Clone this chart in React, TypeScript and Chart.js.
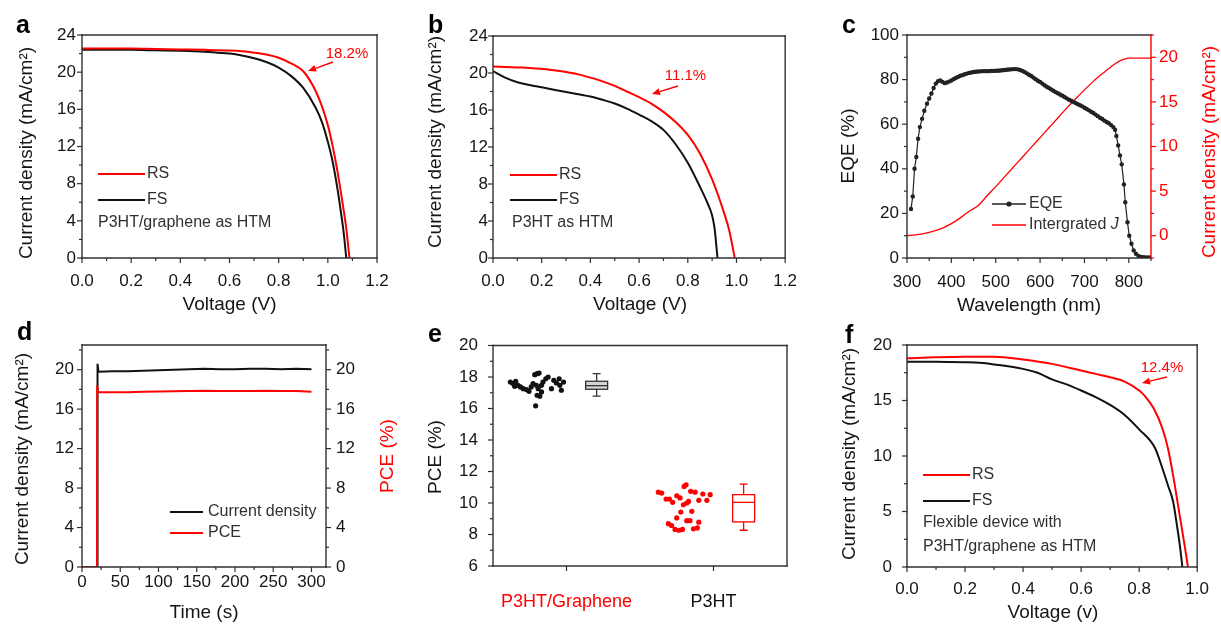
import React, { useEffect, useRef } from 'react';
import { Chart, registerables } from 'chart.js';

Chart.register(...registerables);

const FONT = '"Liberation Sans", Arial, Helvetica, sans-serif';
const RED = '#ff0000';
const INK = '#151515';
const AXIS = '#303030';
const SOFT = '#303030';

// ---------- Panel a : P3HT/graphene as HTM ----------
const aVoltageRS = [0, 0.1, 0.2, 0.3, 0.4, 0.5, 0.6, 0.65, 0.7, 0.75, 0.8, 0.85, 0.9, 0.925, 0.95, 0.975, 1.0, 1.02, 1.04, 1.06, 1.075, 1.088];
const aCurrentRS = [22.55, 22.55, 22.55, 22.5, 22.45, 22.4, 22.32, 22.24, 22.1, 21.9, 21.55, 20.95, 20.1, 19.2, 18.0, 16.4, 14.3, 12.0, 9.2, 5.9, 3.2, 0];
const aVoltageFS = [0, 0.1, 0.2, 0.3, 0.4, 0.5, 0.55, 0.6, 0.65, 0.7, 0.75, 0.8, 0.85, 0.9, 0.95, 0.975, 1.0, 1.02, 1.04, 1.055, 1.065, 1.075];
const aCurrentFS = [22.4, 22.4, 22.4, 22.35, 22.3, 22.2, 22.1, 22.0, 21.8, 21.5, 21.1, 20.5, 19.6, 18.3, 16.2, 14.7, 12.5, 10.3, 7.3, 4.6, 2.6, 0];

// ---------- Panel b : P3HT as HTM ----------
const bVoltageRS = [0, 0.05, 0.1, 0.15, 0.2, 0.25, 0.3, 0.35, 0.4, 0.45, 0.5, 0.55, 0.6, 0.65, 0.7, 0.75, 0.8, 0.85, 0.9, 0.95, 0.97, 0.993];
const bCurrentRS = [20.7, 20.65, 20.6, 20.55, 20.45, 20.3, 20.1, 19.85, 19.5, 19.1, 18.6, 18.0, 17.4, 16.7, 15.8, 14.7, 13.3, 11.3, 8.5, 4.8, 3.0, 0];
const bVoltageFS = [0, 0.05, 0.1, 0.15, 0.2, 0.25, 0.3, 0.35, 0.4, 0.45, 0.5, 0.55, 0.6, 0.65, 0.7, 0.75, 0.8, 0.85, 0.88, 0.9, 0.91, 0.922];
const bCurrentFS = [20.2, 19.5, 19.0, 18.7, 18.45, 18.2, 17.95, 17.7, 17.45, 17.1, 16.7, 16.15, 15.5, 14.8, 13.85, 12.3, 10.3, 7.7, 6.0, 4.6, 3.2, 0];

// ---------- Panel c : EQE and integrated J ----------
const cEqeWavelength = [309, 313, 317, 321, 325, 329, 334, 339, 345, 350, 355, 360, 365, 370, 375, 380, 385, 390, 395, 400, 405, 410, 415, 420, 425, 430, 435, 440, 445, 450, 455, 460, 465, 470, 475, 480, 485, 490, 495, 500, 505, 510, 515, 520, 525, 530, 535, 540, 545, 550, 555, 560, 565, 570, 575, 580, 585, 590, 595, 600, 605, 610, 615, 620, 625, 630, 635, 640, 645, 650, 655, 660, 665, 670, 675, 680, 685, 690, 695, 700, 705, 710, 715, 720, 725, 730, 735, 740, 745, 750, 755, 760, 765, 769, 772, 776, 780, 784, 789, 792, 797, 801, 806, 811, 816, 822, 828, 834, 840, 846];
const cEqe = [22, 27.6, 40, 45.3, 53.5, 58.7, 62.4, 66, 69.2, 71.5, 73.8, 76.2, 78.2, 79.3, 79.6, 79, 78.4, 78.7, 79.1, 79.6, 80.2, 80.7, 81.2, 81.7, 82, 82.4, 82.7, 83, 83.2, 83.4, 83.5, 83.6, 83.7, 83.8, 83.8, 83.8, 83.8, 83.9, 83.9, 84, 84, 84.1, 84.2, 84.3, 84.4, 84.5, 84.6, 84.7, 84.7, 84.6, 84.3, 83.9, 83.4, 82.8, 82.2, 81.6, 80.9, 80.2, 79.5, 78.9, 78.2, 77.5, 76.8, 76.2, 75.6, 75, 74.4, 73.9, 73.3, 72.8, 72.2, 71.6, 71, 70.5, 70, 69.5, 69, 68.5, 68, 67.4, 66.8, 66.2, 65.6, 65, 64.3, 63.6, 62.9, 62.3, 61.6, 61, 60.4, 59.6, 58.7, 57.5, 54.7, 50.5, 46, 42, 33, 25, 16, 10, 6.4, 3.4, 1.9, 0.9, 0.5, 0.4, 0.3, 0.3];
const cJWavelength = [300, 320, 340, 360, 380, 400, 420, 440, 460, 480, 500, 520, 540, 560, 580, 600, 620, 640, 660, 680, 700, 720, 740, 750, 760, 770, 780, 790, 800, 820, 850];
const cIntegratedJ = [0, 0.1, 0.25, 0.5, 0.85, 1.35, 2.0, 2.75, 3.35, 4.45, 5.5, 6.6, 7.7, 8.8, 9.9, 11.0, 12.1, 13.2, 14.3, 15.35, 16.35, 17.3, 18.15, 18.55, 18.95, 19.3, 19.6, 19.8, 19.9, 19.9, 19.9];

// ---------- Panel d : stabilised output ----------
const dTimeJ = [0, 20, 20.3, 21.5, 40, 60, 80, 100, 120, 140, 160, 180, 200, 220, 240, 260, 280, 300];
const dCurrentJ = [0, 0, 20.6, 19.8, 19.85, 19.85, 19.9, 19.95, 20.0, 20.05, 20.1, 20.05, 20.05, 20.1, 20.1, 20.05, 20.1, 20.05];
const dTimePCE = [0, 19.6, 19.8, 21, 40, 60, 80, 100, 120, 140, 160, 180, 200, 220, 240, 260, 280, 300];
const dPCE = [0, 0, 18.4, 17.7, 17.7, 17.72, 17.75, 17.78, 17.8, 17.85, 17.87, 17.85, 17.83, 17.85, 17.87, 17.85, 17.83, 17.75];

// ---------- Panel e : PCE statistics ----------
const eCategories = ['P3HT/Graphene', 'P3HT'];
const eCategoryPos = [1, 3];
const eCategoryColors = [RED, '#111111'];
const eGrapheneX = [0.236, 0.273, 0.309, 0.295, 0.34, 0.373, 0.41, 0.455, 0.49, 0.52, 0.545, 0.568, 0.6, 0.627, 0.59, 0.614, 0.6, 0.636, 0.58, 0.66, 0.68, 0.718, 0.75, 0.795, 0.827, 0.864, 0.9, 0.93, 0.96, 0.91, 0.66];
const eGrapheneY = [17.68, 17.58, 17.73, 17.41, 17.47, 17.37, 17.26, 17.2, 17.09, 17.37, 17.58, 18.15, 18.21, 18.25, 17.47, 17.26, 16.84, 16.78, 16.17, 17.47, 17.68, 17.89, 18.0, 17.26, 17.79, 17.62, 17.89, 17.16, 17.68, 17.47, 17.05];
const eP3htX = [2.25, 2.295, 2.355, 2.4, 2.445, 2.5, 2.545, 2.5, 2.386, 2.43, 2.477, 2.53, 2.577, 2.555, 2.59, 2.6, 2.627, 2.636, 2.66, 2.636, 2.68, 2.705, 2.69, 2.75, 2.727, 2.78, 2.8, 2.8, 2.855, 2.91, 2.955];
const eP3htY = [10.69, 10.63, 10.25, 10.25, 10.04, 10.46, 10.32, 9.05, 8.69, 8.57, 8.32, 8.27, 8.32, 9.43, 9.89, 11.05, 11.16, 10.0, 10.1, 8.88, 8.88, 9.47, 10.74, 10.69, 8.36, 8.42, 8.78, 10.17, 10.57, 10.17, 10.53];
const eBoxX = [1.41, 3.41];
const eBoxMin = [16.78, 8.27];
const eBoxQ1 = [17.22, 8.8];
const eBoxMedian = [17.45, 10.04];
const eBoxQ3 = [17.73, 10.53];
const eBoxMax = [18.21, 11.2];

// ---------- Panel f : flexible device ----------
const fVoltageRS = [0, 0.1, 0.2, 0.3, 0.4, 0.5, 0.6, 0.65, 0.7, 0.75, 0.8, 0.82, 0.85, 0.88, 0.9, 0.92, 0.94, 0.96, 0.968];
const fCurrentRS = [18.8, 18.9, 18.95, 18.95, 18.7, 18.3, 17.7, 17.4, 17.1, 16.7, 15.9, 15.4, 14.3, 12.5, 10.6, 7.8, 4.6, 1.4, 0];
const fVoltageFS = [0, 0.1, 0.2, 0.25, 0.3, 0.4, 0.45, 0.5, 0.55, 0.6, 0.65, 0.7, 0.75, 0.8, 0.855, 0.88, 0.9, 0.917, 0.93, 0.94, 0.949];
const fCurrentFS = [18.5, 18.5, 18.45, 18.4, 18.25, 17.85, 17.5, 16.9, 16.45, 15.9, 15.3, 14.6, 13.7, 12.4, 10.7, 8.9, 7.3, 5.9, 3.8, 2.0, 0];

// ---------- tick labels ----------
const jvXTicks = [0, 0.2, 0.4, 0.6, 0.8, 1.0, 1.2];
const jvXMinor = [0.1, 0.3, 0.5, 0.7, 0.9, 1.1];
const jvYTicks = [0, 4, 8, 12, 16, 20, 24];
const jvYMinor = [2, 6, 10, 14, 18, 22];
const cXTicks = [300, 400, 500, 600, 700, 800];
const cXMinor = [350, 450, 550, 650, 750, 850];
const cYTicks = [0, 20, 40, 60, 80, 100];
const cYMinor = [10, 30, 50, 70, 90];
const cY2Ticks = [0, 5, 10, 15, 20];
const cY2Minor = [-2.5, 2.5, 7.5, 12.5, 17.5, 22.5];
const dXTicks = [0, 50, 100, 150, 200, 250, 300];
const dXMinor = [25, 75, 125, 175, 225, 275];
const dYTicks = [0, 4, 8, 12, 16, 20];
const dYMinor = [2, 6, 10, 14, 18, 22];
const eYTicks = [6, 8, 10, 12, 14, 16, 18, 20];
const eYMinor = [7, 9, 11, 13, 15, 17, 19];
const fXTicks = [0, 0.2, 0.4, 0.6, 0.8, 1.0];
const fXMinor = [0.1, 0.3, 0.5, 0.7, 0.9];
const fYTicks = [0, 5, 10, 15, 20];
const fYMinor = [2.5, 7.5, 12.5, 17.5];

// ---------- layout ----------
const RECTS = [
  { x: 0, y: 0, w: 410, h: 322 },
  { x: 410, y: 0, w: 400, h: 322 },
  { x: 810, y: 0, w: 411, h: 322 },
  { x: 0, y: 312, w: 410, h: 312 },
  { x: 410, y: 312, w: 400, h: 312 },
  { x: 810, y: 312, w: 411, h: 312 },
];
const AXW = 40;
const AXH = 50;

const pts = (xs: number[], ys: number[]) => xs.map((x, i) => ({ x, y: ys[i] }));
const f1 = (v: number) => Number(v).toFixed(1);
const f0 = (v: number) => String(Math.round(Number(v) * 10) / 10);

const jvLine = (data: any, color: string) => ({
  data, borderColor: color, backgroundColor: color, borderWidth: 2, pointRadius: 0,
  cubicInterpolationMode: 'monotone', fill: false,
});

function txt(t: string, x: number, y: number, size: number, extra: any = {}) {
  return { t, x, y, size, ...extra };
}

function buildSpecs(): any[] {
  const title = (t: string, x: number, y: number, extra: any = {}) => txt(t, x, y, 19, { align: 'center', ...extra });
  const label = (t: string, x: number, y: number) => txt(t, x, y, 25, { bold: true, base: 'alphabetic', color: '#000' });
  const leg = (t: string, x: number, y: number, extra: any = {}) => txt(t, x, y, 16, { color: SOFT, ...extra });
  const frameK = { left: AXIS, bottom: AXIS, top: AXIS, right: AXIS };

  const a = {
    canvas: RECTS[0], plot: { l: 82, t: 35, r: 377, b: 258 },
    datasets: [jvLine(pts(aVoltageRS, aCurrentRS), RED), jvLine(pts(aVoltageFS, aCurrentFS), '#111')],
    x: { min: 0, max: 1.2, ticks: jvXTicks, fmt: f1, pad: 13 },
    y: { min: 0, max: 24, ticks: jvYTicks, fmt: f0, pad: 6 },
    frame: frameK,
    tickAxes: [{ id: 'x', side: 'bottom', color: AXIS, minor: jvXMinor }, { id: 'y', side: 'left', color: AXIS, minor: jvYMinor }],
    texts: [
      label('a', 16, 33),
      title('Voltage (V)', 229.5, 305),
      title('Current density (mA/cm²)', 27, 153, { rot: -90 }),
      leg('RS', 147, 174), leg('FS', 147, 200), leg('P3HT/graphene as HTM', 98, 223),
      txt('18.2%', 347, 54, 15, { color: RED, align: 'center' }),
    ],
    lines: [{ x1: 98, x2: 145, y: 174, color: RED, w: 2 }, { x1: 98, x2: 145, y: 200, color: '#111', w: 2 }],
    arrows: [{ x1: 333, y1: 62, x2: 308, y2: 71, color: RED }],
  };

  const b = {
    canvas: RECTS[1], plot: { l: 493, t: 36, r: 787, b: 258 },
    datasets: [jvLine(pts(bVoltageRS, bCurrentRS), RED), jvLine(pts(bVoltageFS, bCurrentFS), '#111')],
    x: { min: 0, max: 1.2, ticks: jvXTicks, fmt: f1, pad: 13 },
    y: { min: 0, max: 24, ticks: jvYTicks, fmt: f0, pad: 5 },
    frame: frameK,
    tickAxes: [{ id: 'x', side: 'bottom', color: AXIS, minor: jvXMinor }, { id: 'y', side: 'left', color: AXIS, minor: jvYMinor }],
    texts: [
      label('b', 428, 33),
      title('Voltage (V)', 640, 305),
      title('Current density (mA/cm²)', 436, 142, { rot: -90 }),
      leg('RS', 559, 175), leg('FS', 559, 200), leg('P3HT as HTM', 512, 223),
      txt('11.1%', 685.5, 76, 15, { color: RED, align: 'center' }),
    ],
    lines: [{ x1: 510, x2: 557, y: 175, color: RED, w: 2 }, { x1: 510, x2: 557, y: 200, color: '#111', w: 2 }],
    arrows: [{ x1: 678, y1: 86, x2: 652, y2: 94, color: RED }],
  };

  const c = {
    canvas: RECTS[2], plot: { l: 907, t: 35, r: 1151, b: 258 },
    datasets: [
      { data: pts(cEqeWavelength, cEqe), yAxisID: 'y', borderColor: '#222', backgroundColor: '#222', borderWidth: 1.2, pointRadius: 2.2, pointBorderWidth: 0, pointBackgroundColor: '#222', tension: 0 },
      { data: pts(cJWavelength, cIntegratedJ), yAxisID: 'y2', borderColor: RED, borderWidth: 1.3, pointRadius: 0, cubicInterpolationMode: 'monotone' },
    ],
    x: { min: 300, max: 850, ticks: cXTicks, fmt: f0, pad: 14 },
    y: { min: 0, max: 100, ticks: cYTicks, fmt: f0, pad: 8 },
    y2: { min: -2.5, max: 22.5, ticks: cY2Ticks, fmt: f0, pad: 8, color: RED },
    frame: { left: AXIS, bottom: AXIS, top: AXIS, right: RED },
    tickAxes: [
      { id: 'x', side: 'bottom', color: AXIS, minor: cXMinor },
      { id: 'y', side: 'left', color: AXIS, minor: cYMinor },
      { id: 'y2', side: 'right', color: RED, minor: cY2Minor },
    ],
    texts: [
      label('c', 842, 33),
      title('Wavelength (nm)', 1029, 306),
      title('EQE (%)', 849, 146, { rot: -90 }),
      title('Current density (mA/cm²)', 1210, 152, { rot: -90, color: RED }),
      leg('EQE', 1029, 204),
      { parts: [{ t: 'Intergrated ' }, { t: 'J', italic: true }], x: 1029, y: 225, size: 16, color: SOFT },
    ],
    lines: [{ x1: 992, x2: 1026, y: 204, color: '#222', w: 1.3, dot: true }, { x1: 992, x2: 1026, y: 225, color: RED, w: 1.3 }],
    arrows: [],
  };

  const d = {
    canvas: RECTS[3], plot: { l: 82, t: 345, r: 326, b: 567 },
    datasets: [
      { data: pts(dTimePCE, dPCE), yAxisID: 'y2', borderColor: RED, borderWidth: 2, pointRadius: 0, tension: 0 },
      { data: pts(dTimeJ, dCurrentJ), yAxisID: 'y', borderColor: '#111', borderWidth: 2, pointRadius: 0, tension: 0 },
    ],
    x: { min: 0, max: 319, ticks: dXTicks, fmt: f0, pad: 5 },
    y: { min: 0, max: 22.5, ticks: dYTicks, fmt: f0, pad: 8 },
    y2: { min: 0, max: 22.5, ticks: dYTicks, fmt: f0, pad: 10 },
    frame: frameK,
    tickAxes: [
      { id: 'x', side: 'bottom', color: AXIS, minor: dXMinor },
      { id: 'y', side: 'left', color: AXIS, minor: dYMinor },
      { id: 'y2', side: 'right', color: AXIS, minor: dYMinor },
    ],
    texts: [
      label('d', 17, 340),
      title('Time (s)', 204, 613),
      title('Current density (mA/cm²)', 23, 459, { rot: -90 }),
      title('PCE (%)', 388, 456, { rot: -90, color: RED }),
      leg('Current density', 208, 512), leg('PCE', 208, 533),
    ],
    lines: [{ x1: 170, x2: 203, y: 512, color: '#111', w: 2 }, { x1: 170, x2: 203, y: 533, color: RED, w: 2 }],
    arrows: [],
  };

  const e = {
    canvas: RECTS[4], plot: { l: 493, t: 345.5, r: 787, b: 566 },
    datasets: [
      { type: 'scatter', data: pts(eGrapheneX, eGrapheneY), showLine: false, pointRadius: 2.6, pointBorderWidth: 0, pointBackgroundColor: '#111', backgroundColor: '#111' },
      { type: 'scatter', data: pts(eP3htX, eP3htY), showLine: false, pointRadius: 2.6, pointBorderWidth: 0, pointBackgroundColor: RED, backgroundColor: RED },
    ],
    x: { min: 0, max: 4, ticks: eCategoryPos, fmt: (v: number) => eCategories[eCategoryPos.indexOf(Number(v))] || '', pad: 25, size: 18, color: (ctx: any) => eCategoryColors[ctx.index] || '#111' },
    y: { min: 6, max: 20, ticks: eYTicks, fmt: f0, pad: 15 },
    frame: frameK,
    tickAxes: [{ id: 'x', side: 'bottom', color: AXIS, minor: [] }, { id: 'y', side: 'left', color: AXIS, minor: eYMinor }],
    texts: [label('e', 428, 342), title('PCE (%)', 436, 457, { rot: -90 })],
    lines: [], arrows: [],
    boxes: { center: eBoxX, min: eBoxMin, q1: eBoxQ1, med: eBoxMedian, q3: eBoxQ3, max: eBoxMax, stroke: ['#333', RED], fill: ['#d4d4d4', null], half: 11, cap: 4 },
  };

  const f = {
    canvas: RECTS[5], plot: { l: 907, t: 345, r: 1200, b: 567 },
    datasets: [jvLine(pts(fVoltageRS, fCurrentRS), RED), jvLine(pts(fVoltageFS, fCurrentFS), '#111')],
    x: { min: 0, max: 1.0, ticks: fXTicks, fmt: f1, pad: 12 },
    y: { min: 0, max: 20, ticks: fYTicks, fmt: f0, pad: 15 },
    frame: frameK,
    tickAxes: [{ id: 'x', side: 'bottom', color: AXIS, minor: fXMinor }, { id: 'y', side: 'left', color: AXIS, minor: fYMinor }],
    texts: [
      label('f', 845, 343),
      title('Voltage (v)', 1053, 613),
      title('Current density (mA/cm²)', 850, 454, { rot: -90 }),
      leg('RS', 972, 475), leg('FS', 972, 501),
      leg('Flexible device with', 923, 523), leg('P3HT/graphene as HTM', 923, 547),
      txt('12.4%', 1162, 368, 15, { color: RED, align: 'center' }),
    ],
    lines: [{ x1: 923, x2: 970, y: 475, color: RED, w: 2 }, { x1: 923, x2: 970, y: 501, color: '#111', w: 2 }],
    arrows: [{ x1: 1167, y1: 377, x2: 1142, y2: 383, color: RED }],
  };

  return [a, b, c, d, e, f];
}

function makeDecor(spec: any) {
  return {
    id: 'decor',
    afterDatasetsDraw(chart: any) {
      const bx = spec.boxes;
      if (!bx) return;
      const { ctx } = chart;
      const xs = chart.scales.x;
      const ys = chart.scales.y;
      bx.center.forEach((cv: number, i: number) => {
        const cx = xs.getPixelForValue(cv);
        const yLo = ys.getPixelForValue(bx.min[i]);
        const yQ1 = ys.getPixelForValue(bx.q1[i]);
        const yMed = ys.getPixelForValue(bx.med[i]);
        const yQ3 = ys.getPixelForValue(bx.q3[i]);
        const yHi = ys.getPixelForValue(bx.max[i]);
        ctx.save();
        ctx.strokeStyle = bx.stroke[i];
        ctx.lineWidth = 1.3;
        ctx.beginPath();
        ctx.moveTo(cx, yHi); ctx.lineTo(cx, yQ3);
        ctx.moveTo(cx, yQ1); ctx.lineTo(cx, yLo);
        ctx.moveTo(cx - bx.cap, yHi); ctx.lineTo(cx + bx.cap, yHi);
        ctx.moveTo(cx - bx.cap, yLo); ctx.lineTo(cx + bx.cap, yLo);
        ctx.stroke();
        if (bx.fill[i]) {
          ctx.fillStyle = bx.fill[i];
          ctx.fillRect(cx - bx.half, yQ3, 2 * bx.half, yQ1 - yQ3);
        }
        ctx.strokeRect(cx - bx.half, yQ3, 2 * bx.half, yQ1 - yQ3);
        ctx.beginPath();
        ctx.moveTo(cx - bx.half, yMed); ctx.lineTo(cx + bx.half, yMed);
        ctx.stroke();
        ctx.restore();
      });
    },
    afterDraw(chart: any) {
      const { ctx, chartArea: ca } = chart;
      const tx = (v: number) => v - spec.plot.l + ca.left;
      const ty = (v: number) => v - spec.plot.t + ca.top;
      const seg = (x1: number, y1: number, x2: number, y2: number, c: string) => {
        ctx.strokeStyle = c;
        ctx.beginPath(); ctx.moveTo(x1, y1); ctx.lineTo(x2, y2); ctx.stroke();
      };
      ctx.save();
      ctx.lineWidth = 1.4;
      ctx.lineCap = 'square';
      const fr = spec.frame;
      seg(ca.left, ca.top, ca.left, ca.bottom, fr.left);
      seg(ca.left, ca.bottom, ca.right, ca.bottom, fr.bottom);
      seg(ca.left, ca.top, ca.right, ca.top, fr.top);
      seg(ca.right, ca.top, ca.right, ca.bottom, fr.right);
      ctx.lineCap = 'butt';
      ctx.lineWidth = 1.2;
      for (const ax of spec.tickAxes) {
        const sc = chart.scales[ax.id];
        const draw = (v: number, len: number) => {
          const p = sc.getPixelForValue(v);
          if (ax.side === 'bottom') seg(p, ca.bottom, p, ca.bottom + len, ax.color);
          else if (ax.side === 'left') seg(ca.left - len, p, ca.left, p, ax.color);
          else seg(ca.right, p, ca.right + len, p, ax.color);
        };
        sc.ticks.forEach((t: any) => draw(t.value, 5));
        ax.minor.forEach((v: number) => draw(v, 3));
      }
      for (const l of spec.lines) {
        ctx.lineWidth = l.w;
        seg(tx(l.x1), ty(l.y), tx(l.x2), ty(l.y), l.color);
        if (l.dot) {
          ctx.fillStyle = l.color;
          ctx.beginPath();
          ctx.arc(tx((l.x1 + l.x2) / 2), ty(l.y), 2.6, 0, Math.PI * 2);
          ctx.fill();
        }
      }
      for (const a of spec.arrows) {
        const x1 = tx(a.x1), y1 = ty(a.y1), x2 = tx(a.x2), y2 = ty(a.y2);
        const ang = Math.atan2(y2 - y1, x2 - x1);
        const hl = 8, hw = 3.5;
        const bx = x2 - hl * Math.cos(ang), by = y2 - hl * Math.sin(ang);
        ctx.lineWidth = 1.4;
        seg(x1, y1, bx, by, a.color);
        ctx.fillStyle = a.color;
        ctx.beginPath();
        ctx.moveTo(x2, y2);
        ctx.lineTo(bx + hw * Math.sin(ang), by - hw * Math.cos(ang));
        ctx.lineTo(bx - hw * Math.sin(ang), by + hw * Math.cos(ang));
        ctx.closePath();
        ctx.fill();
      }
      for (const it of spec.texts) {
        ctx.save();
        ctx.translate(tx(it.x), ty(it.y));
        if (it.rot) ctx.rotate((it.rot * Math.PI) / 180);
        ctx.fillStyle = it.color || INK;
        ctx.textBaseline = it.base || 'middle';
        ctx.textAlign = 'left';
        const parts = it.parts || [{ t: it.t }];
        const fontOf = (p: any) => `${p.italic ? 'italic ' : ''}${it.bold ? 'bold ' : ''}${it.size}px ${FONT}`;
        let total = 0;
        parts.forEach((p: any) => { ctx.font = fontOf(p); total += ctx.measureText(p.t).width; });
        let x0 = it.align === 'center' ? -total / 2 : it.align === 'right' ? -total : 0;
        for (const p of parts) {
          ctx.font = fontOf(p);
          ctx.fillText(p.t, x0, 0);
          x0 += ctx.measureText(p.t).width;
        }
        ctx.restore();
      }
      ctx.restore();
    },
  };
}

function axisOpts(a: any, position: string) {
  return {
    type: 'linear',
    position,
    min: a.min,
    max: a.max,
    afterBuildTicks: (s: any) => { s.ticks = a.ticks.map((v: number) => ({ value: v })); },
    afterFit: (s: any) => { if (position === 'bottom') s.height = AXH; else s.width = AXW; },
    grid: { display: false, drawTicks: false },
    border: { display: false },
    ticks: {
      autoSkip: false,
      maxRotation: 0,
      minRotation: 0,
      padding: a.pad,
      font: { family: FONT, size: a.size || 17 },
      color: a.color || INK,
      callback: (v: any) => a.fmt(v),
    },
  };
}

function buildChart(canvas: HTMLCanvasElement, spec: any) {
  const L = spec.plot.l - spec.canvas.x;
  const T = spec.plot.t - spec.canvas.y;
  const R = spec.plot.r - spec.canvas.x;
  const B = spec.plot.b - spec.canvas.y;
  const hasY2 = !!spec.y2;
  const scales: any = { x: axisOpts(spec.x, 'bottom'), y: axisOpts(spec.y, 'left') };
  if (hasY2) scales.y2 = axisOpts(spec.y2, 'right');
  return new Chart(canvas, {
    type: 'line',
    data: { datasets: spec.datasets },
    options: {
      animation: false,
      responsive: false,
      devicePixelRatio: 1,
      events: [],
      layout: {
        padding: {
          left: L - AXW,
          top: T,
          right: spec.canvas.w - R - (hasY2 ? AXW : 0),
          bottom: spec.canvas.h - B - AXH,
        },
      },
      plugins: { legend: { display: false }, tooltip: { enabled: false }, title: { display: false } },
      scales,
    },
    plugins: [makeDecor(spec)],
  } as any);
}

export default function App() {
  const refs = useRef<(HTMLCanvasElement | null)[]>([]);
  useEffect(() => {
    const specs = buildSpecs();
    const charts = specs.map((s, i) => buildChart(refs.current[i] as HTMLCanvasElement, s));
    return () => charts.forEach((c) => c.destroy());
  }, []);
  return (
    <div style={{ position: 'absolute', left: 0, top: 0, width: 1221, height: 624, background: '#fff', overflow: 'hidden' }}>
      {RECTS.map((r, i) => (
        <canvas
          key={i}
          ref={(el) => { refs.current[i] = el; }}
          width={r.w}
          height={r.h}
          style={{ position: 'absolute', left: r.x, top: r.y, width: r.w, height: r.h }}
        />
      ))}
    </div>
  );
}
